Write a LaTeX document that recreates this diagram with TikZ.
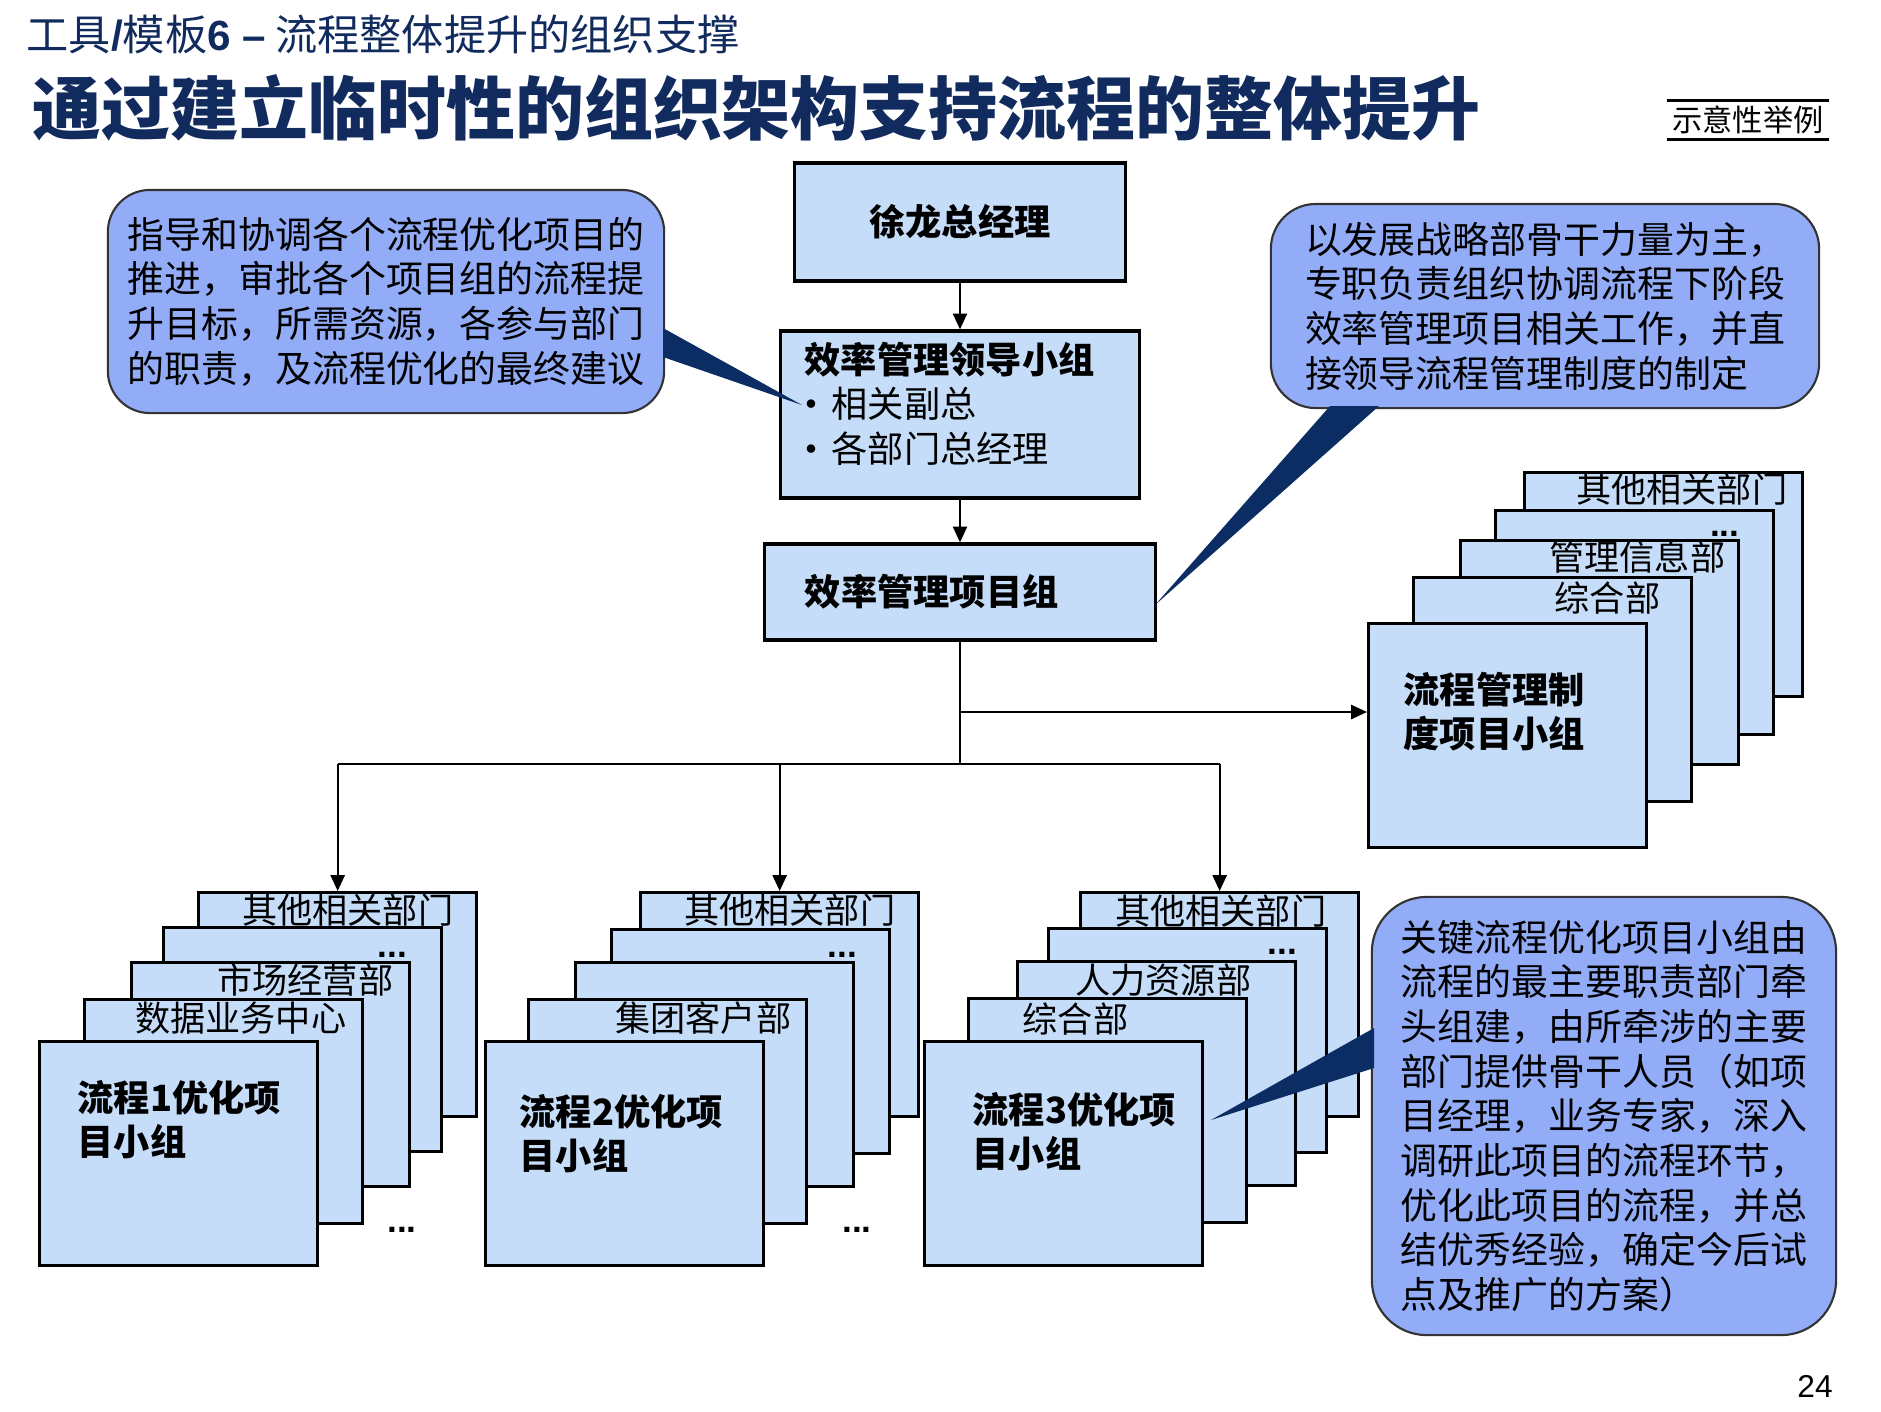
\documentclass[tikz,border=0pt]{standalone}
\usepackage{fontspec}
\setmainfont{Noto Sans CJK SC}
\newfontfamily\latinfont{Liberation Sans}
\usepackage{xcolor}
\definecolor{vizBoxFill}{HTML}{C6DDF9}
\definecolor{vizNoteFill}{HTML}{92ACF7}
\definecolor{vizTail}{HTML}{0B2D64}
\definecolor{vizTitle}{HTML}{112B5E}
\usetikzlibrary{arrows.meta}

\newcommand{\boxFont}{\fontsize{10.3}{12.7}\selectfont}
\newcommand{\deptFont}{\fontsize{10}{12}\selectfont}
\newcommand{\noteFont}{\fontsize{10.5}{12.7}\selectfont}
\newcommand{\listDot}{\raisebox{2.6pt}{$\scriptscriptstyle\bullet$}\hspace{4pt}}

\tikzset{
  orgBox/.style={draw=black, line width=0.9pt, fill=vizBoxFill, inner sep=0pt, font=\boxFont},
  deptBox/.style={draw=black, line width=0.9pt, fill=vizBoxFill, anchor=north west,
    minimum width=2.78cm, minimum height=2.24cm, inner sep=0pt},
  deptLabel/.style={anchor=base east, inner sep=0pt, font=\deptFont},
  groupLabel/.style={anchor=base west, inner sep=0pt, align=left, text width=2.4cm, font=\boxFont\bfseries},
  moreDots/.style={inner sep=0pt, font=\latinfont\bfseries\fontsize{10}{12}\selectfont},
  noteBox/.style={draw=black!80, line width=0.6pt, fill=vizNoteFill, rounded corners=0.42cm,
    align=left, inner sep=0pt, font=\noteFont},
  linkLine/.style={line width=0.6pt},
  linkArrow/.style={line width=0.6pt, -{Triangle[length=4.5pt,width=4pt]}}
}

\begin{document}
\begin{tikzpicture}[x=0.01cm, y=-0.01cm]
  \useasboundingbox (0,0) rectangle (1881,1411);

  % heading
  \node[anchor=west, inner sep=0pt, text=vizTitle, font=\fontsize{12}{14}\selectfont] (subHead) at (26,34)
    {工具{\latinfont\bfseries /}模板{\latinfont\bfseries 6 –} 流程整体提升的组织支撑};
  \node[anchor=west, inner sep=0pt, text=vizTitle, font=\fontsize{19.6}{22}\selectfont\bfseries] (mainHead) at (32,108)
    {通过建立临时性的组织架构支持流程的整体提升};
  \node[inner sep=0pt, minimum width=1.6cm, minimum height=0.38cm, font=\fontsize{8.6}{10}\selectfont] (tagNote) at (1748,120) {示意性举例};
  \draw[line width=0.9pt] (tagNote.north west) -- (tagNote.north east) (tagNote.south west) -- (tagNote.south east);

  % top of the chart
  \node[orgBox, minimum width=3.3cm, minimum height=1.18cm, font=\boxFont\bfseries] (gmBox) at (960,222) {徐龙总经理};
  \node[orgBox, minimum width=3.58cm, minimum height=1.67cm] (leadBox) at (960,414.5) {};
  \node[anchor=base west, inner sep=0pt, align=left, text width=3cm, font=\boxFont] (leadTxt) at (804,373)
    {\textbf{效率管理领导小组}\\
     \listDot 相关副总\\
     \listDot 各部门总经理};
  \node[orgBox, minimum width=3.9cm, minimum height=0.96cm, text width=3.1cm, align=left, font=\boxFont\bfseries] (projBox) at (960,592) {效率管理项目组};

  \draw[linkArrow] (gmBox.south) -- (leadBox.north);
  \draw[linkArrow] (leadBox.south) -- (projBox.north);

  % process-system group (right)
  \node[deptBox] (ra) at (1523,471) {};
  \node[deptLabel] (raTxt) at (1788,502) {其他相关部门};
  \node[deptBox] (rb) at (1494,509) {};
  \node[moreDots, anchor=base east] (rbTxt) at (1740,536) {...};
  \node[deptBox] (rc) at (1459,539) {};
  \node[deptLabel] (rcTxt) at (1726,570) {管理信息部};
  \node[deptBox] (rd) at (1412,576) {};
  \node[deptLabel] (rdTxt) at (1661,611) {综合部};
  \node[deptBox] (re) at (1367,622) {};
  \node[groupLabel] (reTxt) at (1403,703) {流程管理制\\度项目小组};

  % group 1
  \node[deptBox] (s1a) at (197,891) {};
  \node[deptLabel] (s1aTxt) at (454,923) {其他相关部门};
  \node[deptBox] (s1b) at (162,926) {};
  \node[moreDots, anchor=base east] (s1bTxt) at (408,957) {...};
  \node[deptBox] (s1c) at (130,961) {};
  \node[deptLabel] (s1cTxt) at (394,993) {市场经营部};
  \node[deptBox] (s1d) at (83,998) {};
  \node[deptLabel] (s1dTxt) at (347,1031) {数据业务中心};
  \node[deptBox] (s1e) at (38,1040) {};
  \node[groupLabel] (s1eTxt) at (77,1111) {流程1优化项\\目小组};
  \node[moreDots] (s1More) at (402,1230) {...};

  % group 2
  \node[deptBox] (s2a) at (639,891) {};
  \node[deptLabel] (s2aTxt) at (896,923) {其他相关部门};
  \node[deptBox] (s2b) at (610,928) {};
  \node[moreDots, anchor=base east] (s2bTxt) at (858,957) {...};
  \node[deptBox] (s2c) at (574,961) {};
  \node[deptBox] (s2d) at (527,998) {};
  \node[deptLabel] (s2dTxt) at (792,1031) {集团客户部};
  \node[deptBox] (s2e) at (484,1040) {};
  \node[groupLabel] (s2eTxt) at (519,1125) {流程2优化项\\目小组};
  \node[moreDots] (s2More) at (857,1230) {...};

  % group 3
  \node[deptBox] (s3a) at (1079,891) {};
  \node[deptLabel] (s3aTxt) at (1327,924) {其他相关部门};
  \node[deptBox] (s3b) at (1047,927) {};
  \node[moreDots, anchor=base east] (s3bTxt) at (1298,954) {...};
  \node[deptBox] (s3c) at (1016,960) {};
  \node[deptLabel] (s3cTxt) at (1252,993) {人力资源部};
  \node[deptBox] (s3d) at (967,997) {};
  \node[deptLabel, anchor=base west] (s3dTxt) at (1022,1032) {综合部};
  \node[deptBox] (s3e) at (923,1040) {};
  \node[groupLabel] (s3eTxt) at (972,1123) {流程3优化项\\目小组};

  % connectors
  \coordinate (branchY) at (960,712);
  \coordinate (hubY) at (960,764);
  \draw[linkLine] (projBox.south) -- (hubY);
  \draw[linkLine] (s1a.north |- hubY) -- (s3a.north |- hubY);
  \draw[linkArrow] (s1a.north |- hubY) -- (s1a.north);
  \draw[linkArrow] (s2a.north |- hubY) -- (s2a.north);
  \draw[linkArrow] (s3a.north |- hubY) -- (s3a.north);
  \draw[linkArrow] (branchY) -- (branchY -| re.west);

  % notes
  \node[noteBox, minimum width=5.56cm, minimum height=2.23cm] (noteLead) at (386,301.5)
    {指导和协调各个流程优化项目的\\推进，审批各个项目组的流程提\\升目标，所需资源，各参与部门\\的职责，及流程优化的最终建议};
  \node[noteBox, minimum width=5.48cm, minimum height=2.04cm, rounded corners=0.45cm] (noteProj) at (1545,306)
    {以发展战略部骨干力量为主，\\专职负责组织协调流程下阶段\\效率管理项目相关工作，并直\\接领导流程管理制度的制定};
  \node[noteBox, minimum width=4.64cm, minimum height=4.38cm, rounded corners=0.55cm] (noteGroup) at (1604,1116)
    {关键流程优化项目小组由\\流程的最主要职责部门牵\\头组建，由所牵涉的主要\\部门提供骨干人员（如项\\目经理，业务专家，深入\\调研此项目的流程环节，\\优化此项目的流程，并总\\结优秀经验，确定今后试\\点及推广的方案）};

  \fill[vizTail] (663,328) -- (663,357) -- (802,405) -- cycle;
  \fill[vizTail] (1330,406) -- (1379,406) -- (1155,605) -- cycle;
  \fill[vizTail] (1374,1028) -- (1374,1068) -- (1211,1120) -- cycle;

  \node[font=\latinfont\fontsize{9}{10}\selectfont] (pageNo) at (1815,1386) {24};
\end{tikzpicture}
\end{document}
